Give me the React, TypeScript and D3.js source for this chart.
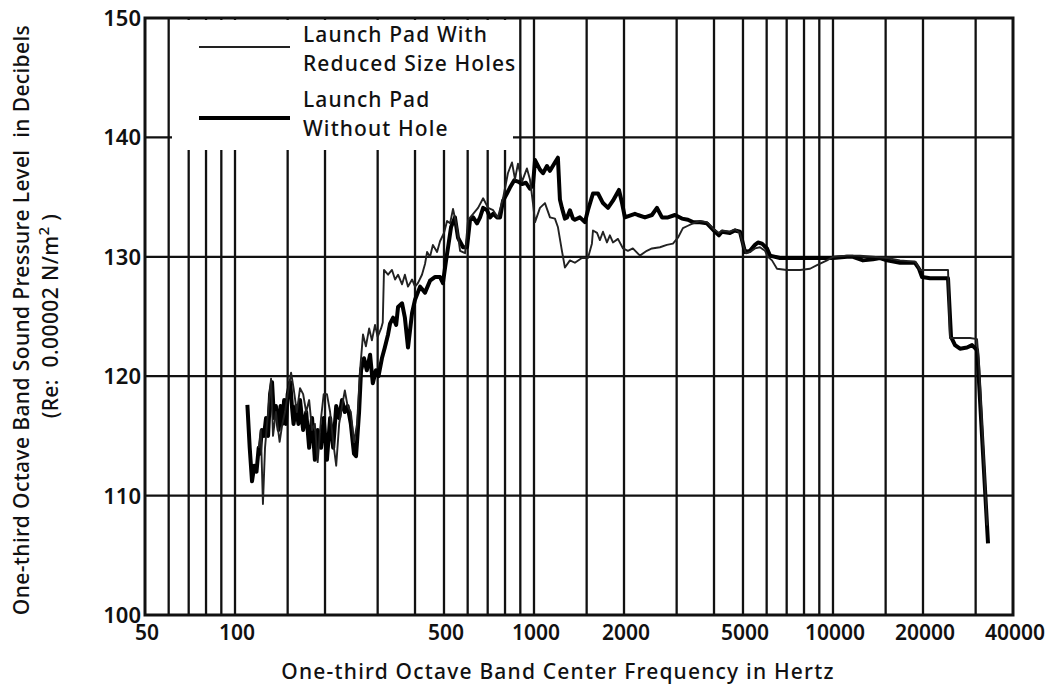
import * as d3 from "d3";
import React from "react";

// axis ticks and grid
const xTickValues = [50, 100, 500, 1000, 2000, 5000, 10000, 20000, 40000];
const xGridValues = [
  60, 70, 80, 90, 100, 150, 200, 300, 400, 500, 600, 700, 800, 900, 1000, 1500, 2000, 3000,
  4000, 5000, 6000, 7000, 8000, 9000, 10000, 15000, 20000, 30000,
];
const yTickValues = [100, 110, 120, 130, 140, 150];

// Launch Pad With Reduced Size Holes (thin)
const reducedFreq = [
  120, 122, 124, 126, 129, 132, 134, 137, 141, 144, 147, 150, 154, 157, 161, 165, 169, 173, 177,
  181, 185, 189, 194, 198, 203, 208, 213, 218, 223, 228, 233, 238, 244, 250, 256, 262, 268, 274,
  281, 287, 294, 300, 308, 312, 315, 325, 335, 343, 351, 362, 370, 379, 391, 400, 409, 422, 432,
  439, 449, 459, 474, 485, 500, 512, 524, 536, 552, 566, 588, 602, 626, 650, 676, 702, 730, 757,
  788, 818, 844, 864, 884, 912, 947, 969, 992, 1008, 1047, 1088, 1131, 1175, 1202, 1240, 1269,
  1319, 1370, 1446, 1515, 1562, 1575, 1625, 1661, 1701, 1754, 1794, 1837, 1909, 1985, 2061, 2141,
  2261, 2384, 2480, 2638, 2782, 2915, 3030, 3148, 3272, 3401, 3590, 3788, 3997, 4154, 4253, 4523,
  4700, 4885, 5000, 5116, 5277, 5484, 5699, 5923, 6060, 6251, 6497, 7007, 7756, 8377, 8841, 9550,
  10000, 11139, 12312, 13609, 15159, 16755, 18809, 19247, 19546, 21111, 22801, 24251, 24627,
  25990, 28728, 30320, 30791, 31513, 32249, 32750,
];
const reducedLevel = [
  114, 115.5, 109.3, 114, 117, 119.8, 115, 117, 114.5, 116, 117, 118.5, 120.3, 119, 117, 119,
  118.5, 117, 118, 115.5, 116, 112.8, 116.5, 118.5, 118.5, 117, 114.5, 112.5, 116, 117.5, 118.8,
  117.5, 117, 114.5, 116, 120.5, 123.5, 122.5, 124, 123, 124.3, 123.3, 124, 124.5, 128.9, 128.5,
  128.9, 128.1, 128.5, 127.7, 128.5, 127.5, 128.1, 127.5, 127.8, 128.5, 129.4, 130.4, 130, 131,
  130.4, 131.3, 132, 133, 132.8, 134, 132.5, 130.5, 130.3, 133.1, 133.6, 134.1, 134.9, 134.1,
  133.9, 133.3, 134.9, 137, 137.9, 136.5, 137.8, 136.3, 137.4, 136.5, 134.5, 132.9, 134.1, 134.5,
  133.3, 133.2, 132.5, 130.5, 129.1, 129.7, 129.5, 129.9, 129.9, 131.1, 132.2, 132, 131.4, 132.1,
  131.2, 131.8, 131.2, 131.5, 130.7, 130.5, 130.7, 130.1, 130.5, 130.7, 130.8, 131, 131.1, 131.6,
  132.4, 132.6, 132.8, 133, 132.9, 132.3, 132, 132.2, 132.1, 132.3, 132, 131, 130.3, 130.4, 130.7,
  130.8, 130.5, 130, 129.7, 129, 128.9, 128.9, 129, 129.3, 129.7, 130, 130.1, 130.1, 130, 129.9,
  129.7, 129.6, 129.2, 128.9, 128.9, 128.9, 128.9, 123.2, 123.2, 123.2, 123.1, 121, 116, 111,
  107.5,
];

// Launch Pad Without Hole (thick)
const noHoleFreq = [
  110, 112, 114, 116, 118, 120, 121, 123, 125, 127, 129, 131, 133, 135, 137, 140, 142, 144, 146,
  148, 150, 153, 155, 157, 160, 163, 165, 169, 173, 177, 181, 185, 189, 194, 198, 203, 208, 213,
  218, 223, 228, 233, 238, 244, 250, 254, 260, 264, 270, 276, 283, 289, 296, 302, 310, 317, 325,
  330, 338, 346, 351, 362, 370, 379, 391, 400, 416, 432, 449, 466, 485, 496, 508, 516, 528, 544,
  557, 579, 597, 611, 626, 645, 660, 676, 697, 713, 730, 752, 770, 788, 812, 831, 858, 884, 912,
  940, 969, 992, 1008, 1047, 1072, 1105, 1131, 1175, 1202, 1221, 1240, 1269, 1290, 1319, 1350,
  1370, 1424, 1480, 1515, 1575, 1637, 1701, 1768, 1837, 1895, 1924, 1970, 2014, 2175, 2226, 2350,
  2480, 2578, 2679, 2806, 2961, 3125, 3272, 3401, 3590, 3788, 3997, 4154, 4253, 4523, 4700, 4885,
  5000, 5077, 5277, 5484, 5612, 5788, 6015, 6155, 6648, 7350, 8186, 9048, 10000, 11139, 11667,
  12600, 13609, 14363, 15159, 16755, 18809, 19396, 19851, 21111, 22801, 24251, 24817, 25595,
  26599, 28073, 29176, 30320, 30554, 31513, 32249, 33000,
];
const noHoleLevel = [
  117.6, 114, 111.2, 112.5, 112, 114, 113.5, 115.5, 115, 116.5, 115, 118.5, 119.5, 116.5, 117.5,
  115.5, 117.5, 116, 118, 116, 118.5, 119.5, 117.5, 116, 117.5, 116, 118, 115.5, 117, 114, 116.5,
  113, 115.5, 114, 116.5, 113, 116.5, 114, 117.5, 116.5, 118, 117, 117.5, 116, 113.5, 113.3, 117,
  120.5, 121.5, 120.5, 121.8, 119.4, 120.5, 120, 121.5, 122.4, 123.5, 124.4, 124.9, 124.3, 125.8,
  126.1, 124.9, 122.4, 125.3, 126.4, 127.5, 127, 128, 128.3, 128.3, 127.8, 129.7, 130.8, 132.5,
  133.3, 131.6, 130.8, 130.8, 133.1, 133.3, 132.8, 133.3, 134.1, 133.9, 133.3, 133.6, 133.3,
  133.3, 134.7, 135.3, 135.8, 136.4, 136.3, 136.1, 136.2, 135.7, 136, 138.1, 137.3, 137, 137.6,
  137.2, 137.9, 138.3, 134.8, 134.1, 133.2, 133.3, 133.9, 133.2, 133.1, 133.3, 132.9, 133.9,
  135.3, 135.3, 134.5, 134.1, 134.7, 135.3, 135.6, 134.5, 133.3, 133.6, 133.5, 133.3, 133.5,
  134.1, 133.3, 133.3, 133.5, 133.2, 133.1, 132.9, 132.9, 132.8, 132.2, 131.8, 132.1, 132, 132.2,
  132.1, 131.1, 130.4, 130.5, 131, 131.2, 131.1, 130.7, 130.1, 129.9, 129.9, 129.9, 129.9, 129.9,
  130, 130, 129.7, 129.8, 129.9, 129.7, 129.5, 129.5, 129, 128.3, 128.2, 128.2, 128.2, 123.3,
  122.6, 122.3, 122.4, 122.6, 122.2, 121, 115, 110.5, 106,
];

const legendLabels = [
  ["Launch Pad With", "Reduced Size Holes"],
  ["Launch Pad", "Without Hole"],
];

export default function App() {
  const svgRef = React.useRef<SVGSVGElement>(null);

  React.useEffect(() => {
    if (!svgRef.current) return;
    const svg = d3.select(svgRef.current);
    svg.selectAll("*").remove();

    const font = "'Noto Sans', sans-serif";
    const ink = "#111";
    const left = 145;
    const right = 1013;
    const top = 18;
    const bottom = 615;

    const x = d3.scaleLog().domain([50, 40000]).range([left, right]);
    const y = d3.scaleLinear().domain([100, 150]).range([bottom, top]);

    svg.append("rect").attr("width", 1049).attr("height", 689).attr("fill", "#fff");

    // grid
    const grid = svg.append("g").attr("stroke", ink).attr("stroke-width", 2.3);
    grid
      .selectAll("line.v")
      .data(xGridValues)
      .enter()
      .append("line")
      .attr("x1", (d) => x(d))
      .attr("x2", (d) => x(d))
      .attr("y1", top)
      .attr("y2", bottom);
    grid
      .selectAll("line.h")
      .data(yTickValues.slice(1, -1))
      .enter()
      .append("line")
      .attr("x1", left)
      .attr("x2", right)
      .attr("y1", (d) => y(d))
      .attr("y2", (d) => y(d));

    // legend box masks the grid
    svg
      .append("rect")
      .attr("x", 172)
      .attr("y", top + 2)
      .attr("width", 341)
      .attr("height", 130)
      .attr("fill", "#fff");

    // frame
    svg
      .append("rect")
      .attr("x", left)
      .attr("y", top)
      .attr("width", right - left)
      .attr("height", bottom - top)
      .attr("fill", "none")
      .attr("stroke", ink)
      .attr("stroke-width", 3);

    // y tick labels
    svg
      .append("g")
      .selectAll("text")
      .data(yTickValues)
      .enter()
      .append("text")
      .attr("x", left - 4)
      .attr("y", (d) => y(d) + 8)
      .attr("text-anchor", "end")
      .attr("font-family", font)
      .attr("font-size", 22)
      .attr("font-weight", 600)
      .attr("fill", ink)
      .text((d) => d);

    // x tick labels
    svg
      .append("g")
      .selectAll("text")
      .data(xTickValues)
      .enter()
      .append("text")
      .attr("x", (d) => x(d) + 2)
      .attr("y", bottom + 25)
      .attr("text-anchor", "middle")
      .attr("font-family", font)
      .attr("font-size", 21)
      .attr("font-weight", 600)
      .attr("fill", ink)
      .text((d) => d);

    // axis titles
    svg
      .append("text")
      .attr("x", 558)
      .attr("y", 679)
      .attr("text-anchor", "middle")
      .attr("font-family", font)
      .attr("font-size", 21)
      .attr("font-weight", 500)
      .attr("letter-spacing", 1.2)
      .attr("fill", ink)
      .text("One-third Octave Band Center Frequency in Hertz");

    const yTitle = svg
      .append("g")
      .attr("transform", "translate(29,320) rotate(-90)")
      .attr("font-family", font)
      .attr("font-size", 21)
      .attr("font-weight", 500)
      .attr("letter-spacing", 0.4)
      .attr("fill", ink)
      .attr("text-anchor", "middle");
    yTitle
      .append("text")
      .attr("x", 0)
      .attr("y", 0)
      .style("white-space", "pre")
      .text("One-third Octave Band Sound Pressure Level  in Decibels");
    const re = yTitle.append("text").attr("x", 4).attr("y", 29).style("white-space", "pre");
    re.append("tspan").text("(Re:  0.00002 N/m");
    re.append("tspan").attr("dy", -9).attr("font-size", 15).text("2");
    re.append("tspan").attr("dy", 9).text(" )");

    // data lines
    const line = d3
      .line<[number, number]>()
      .x((d) => x(d[0]))
      .y((d) => y(d[1]));

    const reduced = reducedFreq.map((f, i) => [f, reducedLevel[i]] as [number, number]);
    const noHole = noHoleFreq.map((f, i) => [f, noHoleLevel[i]] as [number, number]);

    svg
      .append("path")
      .datum(noHole)
      .attr("fill", "none")
      .attr("stroke", "#000")
      .attr("stroke-width", 4)
      .attr("stroke-linejoin", "round")
      .attr("d", line);

    svg
      .append("path")
      .datum(reduced)
      .attr("fill", "none")
      .attr("stroke", "#222")
      .attr("stroke-width", 1.9)
      .attr("stroke-linejoin", "round")
      .attr("d", line);

    // legend
    const legend = svg
      .append("g")
      .attr("font-family", font)
      .attr("font-size", 21)
      .attr("font-weight", 500)
      .attr("letter-spacing", 1.1)
      .attr("fill", ink);
    const legendY = [47, 118];
    const widths = [1.9, 4];
    legendLabels.forEach((lines, i) => {
      legend
        .append("line")
        .attr("x1", 199)
        .attr("x2", 290)
        .attr("y1", legendY[i])
        .attr("y2", legendY[i])
        .attr("stroke", i === 0 ? "#222" : "#000")
        .attr("stroke-width", widths[i]);
      lines.forEach((t, j) => {
        legend
          .append("text")
          .attr("x", 303)
          .attr("y", legendY[i] - 5 + j * 29 - (i === 0 ? 0 : 6))
          .text(t);
      });
    });
  }, []);

  return (
    <svg
      ref={svgRef}
      width={1049}
      height={689}
      style={{ position: "absolute", left: 0, top: 0 }}
    />
  );
}
